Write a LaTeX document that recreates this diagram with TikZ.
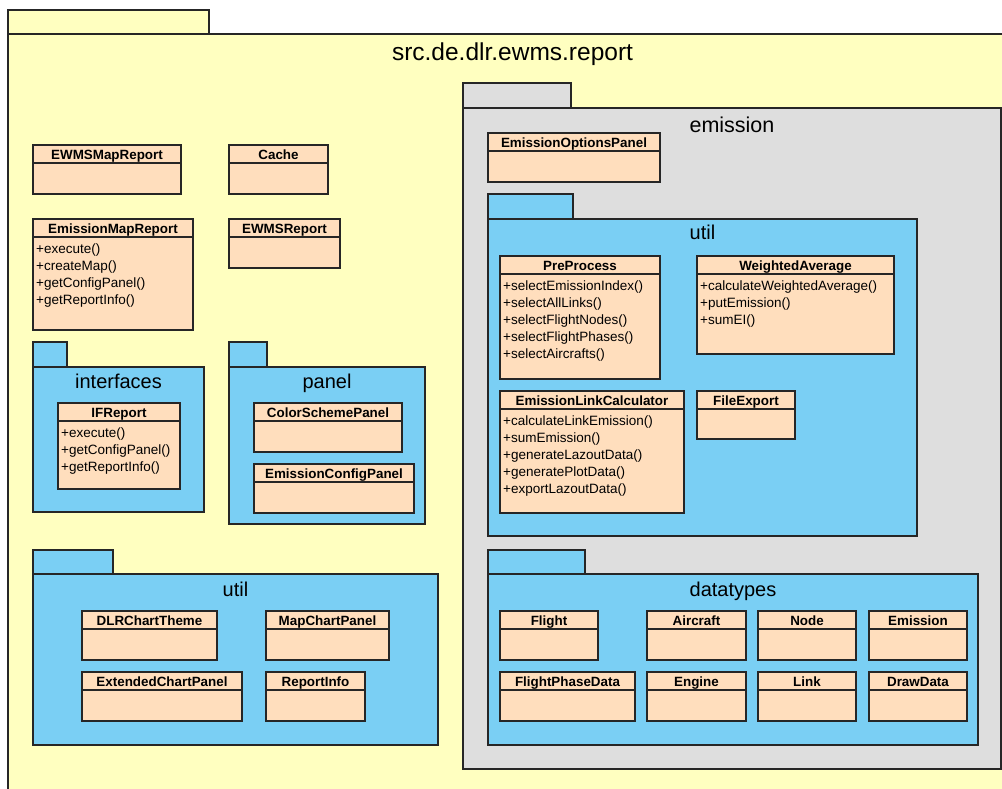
\documentclass[tikz,border=0pt]{standalone}
\usepackage{fontspec}
\setmainfont{Liberation Sans}
\usepackage{tikz}
\usetikzlibrary{positioning}
\tikzstyle{diagram} = [x = 1pt, y = -1pt]
\definecolor{lineGray}{RGB}{38,38,38}
\definecolor{packageYellow}{RGB}{255,255,192}
\definecolor{packageBlue}{RGB}{122,207,244}
\definecolor{packageGray}{RGB}{222,222,222}
\definecolor{classPeach}{RGB}{255,222,189}
\tikzstyle{packageLine} = [draw=lineGray, line width=1.4pt]
\tikzstyle{yellowPackage} = [packageLine, fill=packageYellow]
\tikzstyle{bluePackage} = [packageLine, fill=packageBlue]
\tikzstyle{grayPackage} = [packageLine, fill=packageGray]
\tikzstyle{classStyle} = [draw=lineGray, fill=classPeach, line width=1.3pt]
\tikzstyle{classTitle} = [font=\bfseries\fontsize{13.4}{15}\selectfont, anchor=base, inner sep=0]
\tikzstyle{methodText} = [font=\fontsize{13.5}{15}\selectfont, anchor=base west, inner sep=0]
\tikzstyle{packageTitle} = [font=\fontsize{20}{24}\selectfont, anchor=base, inner sep=0]
\newcommand{\headerHeight}{18}
\newcommand{\lineSkip}{17}
% #1 style, #2 left, #3 tab top, #4 tab right, #5 body top, #6 body right, #7 body bottom
\newcommand{\packageBox}[7]{
  \filldraw [#1] (#2, #3) rectangle (#4, #5);
  \filldraw [#1] (#2, #5) rectangle (#6, #7);
}
% #1 node name, #2 left, #3 top, #4 right, #5 bottom, #6 class name
\newcommand{\umlClass}[6]{
  \filldraw [classStyle] (#2, #3) rectangle (#4, #5);
  \draw [classStyle] (#2, #3 + \headerHeight) -- (#4, #3 + \headerHeight);
  \node [classTitle] (#1) at ({(#2 + #4) / 2}, #3 + 14.5) {#6};
}
% #1 node prefix, #2 left, #3 class top, #4 list of methods
\newcommand{\umlMethods}[4]{
  \foreach \method [count=\row] in {#4} {
    \node [methodText] (#1-\row) at (#2 + 3, #3 + \headerHeight + 16 + \lineSkip * \row - \lineSkip) {\method};
  }
}

\begin{document}
\begin{tikzpicture}[diagram]
  \useasboundingbox (0, 0) rectangle (1002, 789);
  \clip (0, 0) rectangle (1002, 789);
  \fill [white] (0, 0) rectangle (1002, 789);

  % src.de.dlr.ewms.report
  \packageBox{yellowPackage}{8}{10}{209}{34}{1017}{800}
  \node [packageTitle, font=\fontsize{24.5}{28}\selectfont] (report) at (512.5, 60.7) {src.de.dlr.ewms.report};

  \umlClass{ewmsMapReport}{33}{145}{181}{194}{EWMSMapReport}
  \umlClass{cache}{229}{145}{328}{194}{Cache}
  \umlClass{emissionMapReport}{33}{219}{193}{330}{EmissionMapReport}
  \umlMethods{emissionMapReport}{33}{219}{+execute(), +createMap(), +getConfigPanel(), +getReportInfo()}
  \umlClass{ewmsReport}{229}{219}{340}{268}{EWMSReport}

  % interfaces
  \packageBox{bluePackage}{33}{342}{67}{367}{204}{512}
  \node [packageTitle] (interfaces) at (118.5, 388) {interfaces};
  \umlClass{ifReport}{58}{403}{180}{489}{IFReport}
  \umlMethods{ifReport}{58}{403}{+execute(), +getConfigPanel(), +getReportInfo()}

  % panel
  \packageBox{bluePackage}{229}{342}{267}{367}{425}{524}
  \node [packageTitle] (panel) at (327, 388) {panel};
  \umlClass{colorSchemePanel}{254}{403}{402}{452}{ColorSchemePanel}
  \umlClass{emissionConfigPanel}{254}{464}{414}{513}{EmissionConfigPanel}

  % util
  \packageBox{bluePackage}{33}{550}{113}{574}{438}{745}
  \node [packageTitle] (reportUtil) at (235.5, 596) {util};
  \umlClass{dlrChartTheme}{82}{611}{217}{660}{DLRChartTheme}
  \umlClass{mapChartPanel}{266}{611}{389}{660}{MapChartPanel}
  \umlClass{extendedChartPanel}{82}{672}{242}{721}{ExtendedChartPanel}
  \umlClass{reportInfo}{266}{672}{365}{721}{ReportInfo}

  % emission
  \packageBox{grayPackage}{463}{83}{571}{108}{1001}{769}
  \node [packageTitle, font=\fontsize{21.5}{26}\selectfont] (emission) at (732, 133) {emission};
  \umlClass{emissionOptionsPanel}{488}{133}{660}{182}{EmissionOptionsPanel}

  % emission.util
  \packageBox{bluePackage}{488}{194}{573}{219}{917}{536}
  \node [packageTitle] (emissionUtil) at (702.5, 240) {util};
  \umlClass{preProcess}{500}{256}{660}{379}{PreProcess}
  \umlMethods{preProcess}{500}{256}{+selectEmissionIndex(), +selectAllLinks(), +selectFlightNodes(), +selectFlightPhases(), +selectAircrafts()}
  \umlClass{weightedAverage}{697}{256}{894}{354}{WeightedAverage}
  \umlMethods{weightedAverage}{697}{256}{+calculateWeightedAverage(), +putEmission(), +sumEI()}
  \umlClass{emissionLinkCalculator}{500}{391}{684}{513}{EmissionLinkCalculator}
  \umlMethods{emissionLinkCalculator}{500}{391}{+calculateLinkEmission(), +sumEmission(), +generateLazoutData(), +generatePlotData(), +exportLazoutData()}
  \umlClass{fileExport}{697}{391}{795}{439}{FileExport}

  % emission.datatypes
  \packageBox{bluePackage}{488}{550}{585}{574}{978}{745}
  \node [packageTitle] (datatypes) at (733, 596) {datatypes};
  \umlClass{flight}{500}{611}{598}{660}{Flight}
  \umlClass{aircraft}{647}{611}{746}{660}{Aircraft}
  \umlClass{node}{758}{611}{856}{660}{Node}
  \umlClass{emissionData}{869}{611}{967}{660}{Emission}
  \umlClass{flightPhaseData}{500}{672}{635}{721}{FlightPhaseData}
  \umlClass{engine}{647}{672}{746}{721}{Engine}
  \umlClass{link}{758}{672}{856}{721}{Link}
  \umlClass{drawData}{869}{672}{967}{721}{DrawData}
\end{tikzpicture}
\end{document}
